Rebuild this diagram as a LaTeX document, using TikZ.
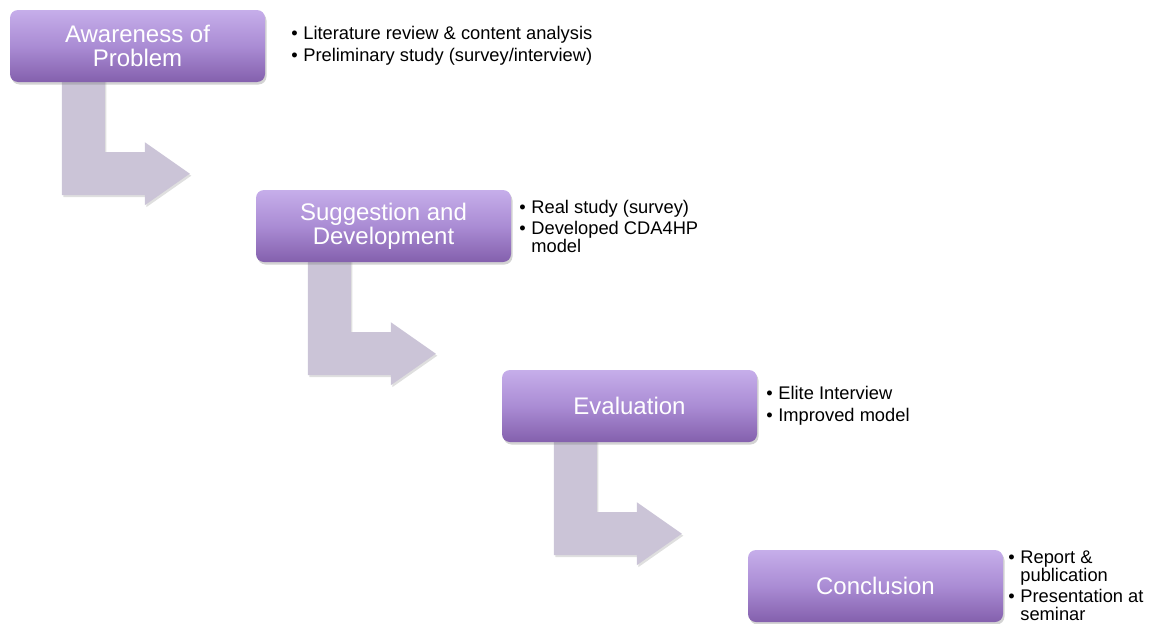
\documentclass[tikz,border=0pt]{standalone}
\usepackage{fontspec}
\setmainfont{Liberation Sans}
\usetikzlibrary{calc,shadows,backgrounds}
\definecolor{boxtop}{HTML}{C6AEEA}
\definecolor{boxmid}{HTML}{AA8CD4}
\definecolor{boxbot}{HTML}{8460AD}
\definecolor{arrowfill}{HTML}{CBC4D7}
\newcommand\bitem{\makebox[12pt][l]{\textbullet}}
\newcommand\bcont{\makebox[12pt][l]{}}
\tikzset{
  phasebox/.style={rounded corners=8pt, minimum width=255pt, minimum height=72pt,
    inner sep=0pt, top color=boxtop, bottom color=boxbot, middle color=boxmid,
    text=white, font=\fontsize{24}{24}\selectfont, align=center,
    drop shadow={opacity=0.35, shadow xshift=1.5pt, shadow yshift=-2.5pt}},
  bullettext/.style={anchor=west, inner sep=0pt, align=left, text=black,
    font=\fontsize{18.3}{17.5}\selectfont},
  steparrow/.style={fill=arrowfill, draw=none,
    drop shadow={opacity=0.25, shadow xshift=1.5pt, shadow yshift=-2pt}}
}
\begin{document}
\begin{tikzpicture}[x=1pt,y=-1pt]
\useasboundingbox (0,0) rectangle (1152,624);
\node[phasebox] (b1) at (137.5,46) {Awareness of\\Problem};
\node[phasebox] (b2) at (383.5,226) {Suggestion and\\Development};
\node[phasebox] (b3) at (629.5,406) {Evaluation};
\node[phasebox] (b4) at (875.5,586) {Conclusion};

\node[bullettext] (t1) at ($(b1.east)+(26,0)$) {\bitem Literature review \& content analysis\\[4pt]\bitem Preliminary study (survey/interview)};
\node[bullettext] (t2) at ($(b2.east)+(8,0)$) {\bitem Real study (survey)\\[4pt]\bitem Developed CDA4HP\\\bcont model};
\node[bullettext] (t3) at ($(b3.east)+(9,0)$) {\bitem Elite Interview\\[4pt]\bitem Improved model};
\node[bullettext] (t4) at ($(b4.east)+(5,0)$) {\bitem Report \&\\\bcont publication\\[4pt]\bitem Presentation at\\\bcont seminar};

\begin{scope}[on background layer]
\foreach \b in {b1,b2,b3}{
  \fill[steparrow] ($(\b.south west)+(52,-2)$) -- ($(\b.south west)+(52,113)$)
    -- ($(\b.south west)+(135,113)$) -- ($(\b.south west)+(135,123)$)
    -- ($(\b.south west)+(180,91.5)$) -- ($(\b.south west)+(135,60)$)
    -- ($(\b.south west)+(135,70)$) -- ($(\b.south west)+(95,70)$)
    -- ($(\b.south west)+(95,-2)$) -- cycle;
}
\end{scope}
\end{tikzpicture}
\end{document}
